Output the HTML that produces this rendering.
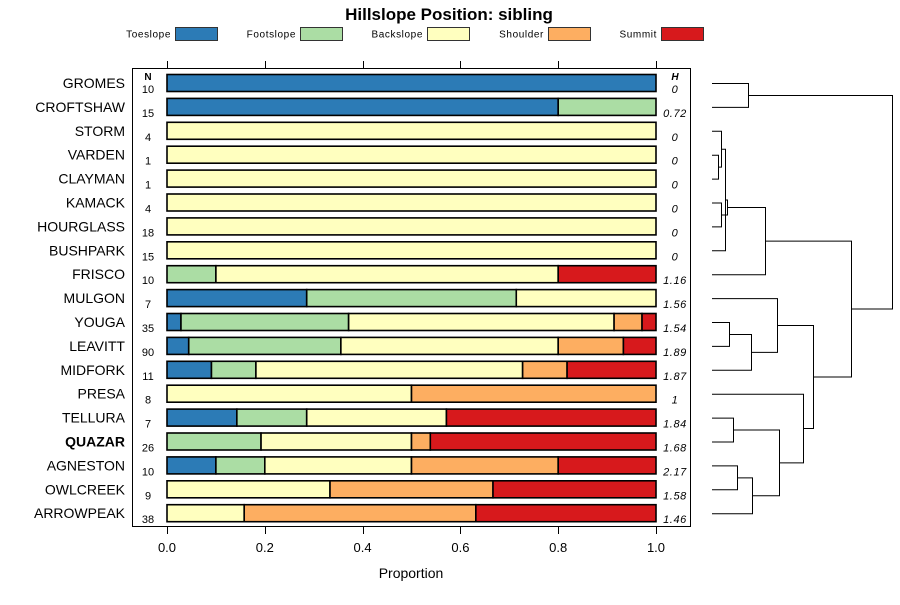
<!DOCTYPE html>
<html><head><meta charset="utf-8"><style>
body{margin:0;background:#fff;}
svg text{font-family:"Liberation Sans",sans-serif;}
</style></head><body>
<svg id="chart" width="900" height="600" xmlns="http://www.w3.org/2000/svg">
<text x="449" y="20" text-anchor="middle" font-size="17" font-weight="bold">Hillslope Position: sibling</text>
<g id="legend"></g>
<rect x="132.5" y="68.5" width="558" height="458" fill="none" stroke="#000" stroke-width="1"/>
<g id="bars"></g>
<g id="axis"></g>
<g id="dendro" fill="none" stroke="#000" stroke-width="1"></g>
<text x="148" y="80" text-anchor="middle" font-size="10" font-weight="bold">N</text>
<text x="675" y="80" text-anchor="middle" font-size="10" font-weight="bold" font-style="italic">H</text>
<text x="411" y="578" text-anchor="middle" font-size="14">Proportion</text>
</svg>
<script>
const categories = ["Toeslope","Footslope","Backslope","Shoulder","Summit"];
const colors = ["#2C7BB6","#ABDDA4","#FFFFBF","#FDAE61","#D7191C"];
const series = ["GROMES","CROFTSHAW","STORM","VARDEN","CLAYMAN","KAMACK","HOURGLASS","BUSHPARK","FRISCO","MULGON","YOUGA","LEAVITT","MIDFORK","PRESA","TELLURA","QUAZAR","AGNESTON","OWLCREEK","ARROWPEAK"];
const counts = [[10,0,0,0,0],[12,3,0,0,0],[0,0,4,0,0],[0,0,1,0,0],[0,0,1,0,0],[0,0,4,0,0],[0,0,18,0,0],[0,0,15,0,0],[0,1,7,0,2],[2,3,2,0,0],[1,12,19,2,1],[4,28,40,12,6],[1,1,6,1,2],[0,0,4,4,0],[1,1,2,0,3],[0,5,8,1,12],[1,1,3,3,2],[0,0,3,3,3],[0,0,6,18,14]];
const hValues = ["0","0.72","0","0","0","0","0","0","1.16","1.56","1.54","1.89","1.87","1","1.84","1.68","2.17","1.58","1.46"];
const tickLabels = ["0.0","0.2","0.4","0.6","0.8","1.0"];
const tickValues = [0,0.2,0.4,0.6,0.8,1.0];
const merges = [[-1,-2,36],[-4,-5,6],[-3,2,9],[-6,-7,9],[3,-8,13],[4,5,15],[6,-9,53],[-11,-12,17],[8,-13,39],[-10,9,65],[-15,-16,21],[-17,-18,25],[12,-19,40],[11,13,67],[-14,14,91],[10,15,101],[7,16,139],[1,17,180]];
const highlight = "QUAZAR";

const NS="http://www.w3.org/2000/svg";
function mk(tag,attrs,parent){const e=document.createElementNS(NS,tag);for(const k in attrs)e.setAttribute(k,attrs[k]);parent.appendChild(e);return e;}
const x = v => 167 + v*489;
const y = i => 83 + i*23.9;
const dx = h => 712 + h;

const lg=document.getElementById('legend');
const legBox=[175,300,427,548,661];
categories.forEach((c,i)=>{
  const t=mk('text',{x:legBox[i]-4,y:37.5,'text-anchor':'end','font-size':'10','letter-spacing':'0.6'},lg);t.textContent=c;
  
  
  const r=mk('rect',{x:legBox[i]+0.5,y:27.5,width:42,height:13,fill:colors[i],stroke:'#333','stroke-width':1},lg);
  
  
});

const bg=document.getElementById('bars');
series.forEach((s,i)=>{
  const tot=counts[i].reduce((a,b)=>a+b,0);
  let cum=0;
  const cy=y(i);
  counts[i].forEach((c,k)=>{
    if(c<=0)return;
    const x0=x(cum/tot), x1=x((cum+c)/tot);
    cum+=c;
    const r=mk('rect',{x:x0,y:cy-8.5,width:x1-x0,height:17,fill:colors[k],stroke:'#000','stroke-width':1.6},bg);
    
    
  });
  const l=mk('text',{x:125,y:cy+5,'text-anchor':'end','font-size':'14','font-weight':s===highlight?'bold':'normal'},bg);l.textContent=s;
  
  
  const n=mk('text',{x:148,y:cy+10,'text-anchor':'middle','font-size':'11'},bg);n.textContent=tot;
  
  
  const h=mk('text',{x:675,y:cy+10,'text-anchor':'middle','font-size':'11','font-style':'italic','letter-spacing':'0.6'},bg);h.textContent=hValues[i];
  
  
});

const ax=document.getElementById('axis');
tickValues.forEach((v,i)=>{
  const px=Math.round(x(v))+0.5;
  const t1=mk('line',{x1:px,x2:px,y1:61,y2:68,stroke:'#000'},ax);
  
  
  const t2=mk('line',{x1:px,x2:px,y1:527,y2:534,stroke:'#000'},ax);
  
  
  const tl=mk('text',{x:x(v),y:552,'text-anchor':'middle','font-size':'13'},ax);tl.textContent=tickLabels[i];
  
  
});

const dg=document.getElementById('dendro');
const nodes=[];
function pos(id){ if(id<0){return {x:dx(0),y:y(-id-1)};} return nodes[id-1]; }
merges.forEach((m,j)=>{
  const a=pos(m[0]), b=pos(m[1]), hx=dx(m[2]);
  const p=mk('path',{d:`M${a.x},${a.y+0.5}H${hx+0.5}V${b.y+0.5}H${b.x}`},dg);
  
  
  nodes.push({x:hx,y:(a.y+b.y)/2});
});
</script>
</body></html>
